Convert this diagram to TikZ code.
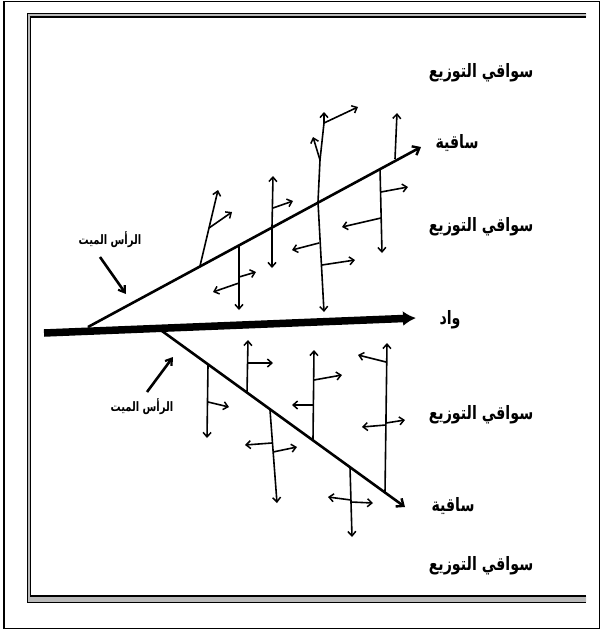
\documentclass[tikz,border=0pt]{standalone}
\usepackage{fontspec}
\usepackage{graphicx}
\usetikzlibrary{arrows.meta}
\TeXXeTstate=1
\newfontfamily\arabicfont[Script=Arabic]{DejaVu Sans}
\newcommand{\arline}[1]{\scalebox{1}[1.3]{\beginR #1\endR}}
\begin{document}
\begin{tikzpicture}[x=1pt,y=-1pt,
  mainline/.style={line width=7.5pt,-{Latex[length=13pt,width=15pt]}},
  branchline/.style={line width=2.6pt,-{Straight Barb[length=6pt,width=10pt,line width=2.4pt]}},
  distarr/.style={line width=1.6pt,line join=round,-{Straight Barb[length=4.5pt,width=8pt,line width=1.5pt]}},
  deadarr/.style={line width=2.6pt,-{Straight Barb[length=6pt,width=8pt,line width=2.2pt]}},
  biglabel/.style={font=\arabicfont\bfseries\fontsize{14.2}{16}\selectfont,inner sep=0pt},
  smalllabel/.style={font=\arabicfont\bfseries\fontsize{10}{12}\selectfont,inner sep=0pt}]
\useasboundingbox (0,0) rectangle (601,630);
% frames
\draw[line width=1.8pt] (4,1.5) rectangle (599.5,628.5);
\fill[gray!55] (586,13) -- (27,13) -- (27,602) -- (586,602) -- (586,596) -- (30.5,596) -- (30.5,17) -- (586,17) -- cycle;
\draw[line width=0.8pt] (586,13) -- (27,13) -- (27,602) -- (586,602);
\draw[line width=1.6pt] (586,17) -- (30.5,17) -- (30.5,596) -- (586,596);
% main wadi and branches
\coordinate (mA) at (44,333); \coordinate (mB) at (416,318);
\coordinate (uA) at (88,327); \coordinate (uB) at (421,147);
\coordinate (lA) at (162,331); \coordinate (lB) at (405,507);
\draw[branchline] (uA) -- (uB);
\draw[branchline] (lA) -- (lB);
\draw[mainline] (mA) -- (mB);
% labels
\node[biglabel] (t1) at (481,73) {\arline{سواقي التوزيع}};
\node[biglabel] (s1) at (457,143) {\arline{ساقية}};
\node[biglabel] (t2) at (481,227) {\arline{سواقي التوزيع}};
\node[biglabel] (w) at (450,320) {\arline{واد}};
\node[biglabel] (t3) at (481,415) {\arline{سواقي التوزيع}};
\node[biglabel] (s2) at (453,506) {\arline{ساقية}};
\node[biglabel] (t4) at (481,566) {\arline{سواقي التوزيع}};
\node[smalllabel] (d1) at (110,240) {\arline{الرأس الميت}};
\node[smalllabel] (d2) at (142,407) {\arline{الرأس الميت}};
\coordinate (d1s) at (100,257); \coordinate (d1e) at (126,294);
\coordinate (d2s) at (147,392); \coordinate (d2e) at (173,357);
\draw[deadarr] (d1s) -- (d1e);
\draw[deadarr] (d2s) -- (d2e);
% upper distributaries
\draw[distarr] (200,266) -- (218,190);
\draw[distarr] (209,228) -- (232,212);
\draw[distarr] (239,245) -- (239,310);
\draw[distarr] (239,283) -- (213,292);
\draw[distarr] (239,277) -- (256,272);
\draw[distarr] (272,227) -- (273,176);
\draw[distarr] (272,227) -- (272,268);
\draw[distarr] (273,208) -- (293,201);
\draw[distarr] (318,202) -- (320,160) -- (313,137);
\draw[distarr] (320,160) -- (324,123) -- (324,112);
\draw[distarr] (324,123) -- (358,107);
\draw[distarr] (318,202) -- (324,312);
\draw[distarr] (319,243) -- (292,250);
\draw[distarr] (322,265) -- (355,260);
\draw[distarr] (380,168) -- (382,253);
\draw[distarr] (381,192) -- (408,187);
\draw[distarr] (381,218) -- (342,227);
\draw[distarr] (395,159) -- (397,113);
% lower distributaries
\draw[distarr] (208,365) -- (207,438);
\draw[distarr] (208,402) -- (229,407);
\draw[distarr] (247,393) -- (248,340);
\draw[distarr] (248,363) -- (273,363);
\draw[distarr] (270,410) -- (277,503);
\draw[distarr] (272,443) -- (245,445);
\draw[distarr] (273,452) -- (297,447);
\draw[distarr] (313,440) -- (314,350);
\draw[distarr] (314,380) -- (342,375);
\draw[distarr] (313,405) -- (292,405);
\draw[distarr] (350,467) -- (352,537);
\draw[distarr] (351,500) -- (328,497);
\draw[distarr] (351,502) -- (373,503);
\draw[distarr] (385,493) -- (387,343);
\draw[distarr] (386,362) -- (358,355);
\draw[distarr] (386,423) -- (405,420);
\draw[distarr] (386,425) -- (362,427);
\end{tikzpicture}
\end{document}
